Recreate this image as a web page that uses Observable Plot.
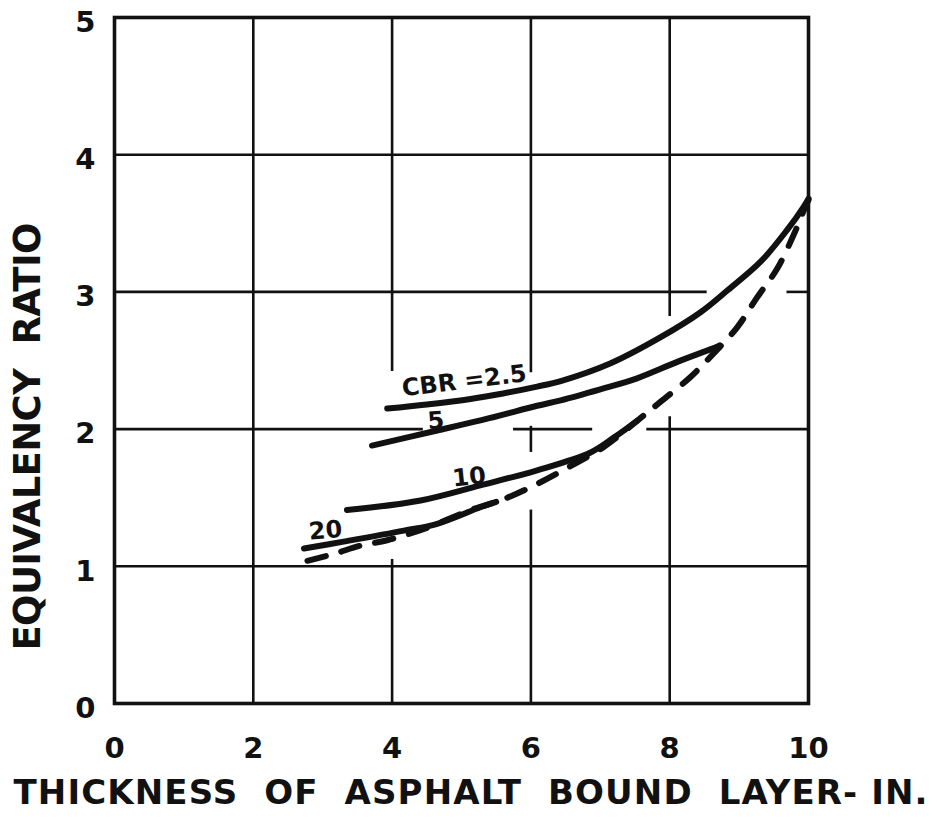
<!DOCTYPE html>
<html>
<head>
<meta charset="utf-8">
<script src="https://cdn.jsdelivr.net/npm/d3@7"></script>
<script src="https://cdn.jsdelivr.net/npm/@observablehq/plot@0.6"></script>
<style>
  html, body { margin: 0; padding: 0; background: #fff; }
  #chart svg { display: block; }
</style>
</head>
<body>
<div id="chart"></div>
<script>
// ---- data ----
const xTicks = [0, 2, 4, 6, 8, 10];
const yTicks = [0, 1, 2, 3, 4, 5];
const xTitle = "THICKNESS  OF  ASPHALT  BOUND  LAYER- IN.";
const yTitle = "EQUIVALENCY  RATIO";

// curve for CBR = 2.5 : [thickness, ratio]
const cbr25 = [[3.93,2.15],[4.5,2.18],[5.13,2.22],[5.6,2.26],[6.09,2.31],[6.43,2.35],[7.15,2.48],[7.87,2.67],[8.44,2.85],[8.83,3.01],[9.31,3.22],[9.69,3.45],[9.93,3.62],[10.0,3.68]];
const cbr5  = [[3.71,1.88],[4.65,1.99],[5.4,2.08],[6.09,2.17],[6.43,2.21],[7.0,2.29],[7.53,2.37],[8.11,2.49],[8.68,2.60],[8.72,2.61]];
const cbr10 = [[3.35,1.41],[4.41,1.48],[5.27,1.59],[6.09,1.70],[6.86,1.83],[7.2,1.94],[7.53,2.06]];
const cbr20 = [[2.73,1.13],[3.3,1.18],[4.17,1.26],[4.65,1.31],[5.27,1.43],[5.5,1.47]];
const envelope = [[2.78,1.04],[3.16,1.09],[3.54,1.15],[3.93,1.19],[4.5,1.28],[5.13,1.41],[5.61,1.49],[6.09,1.60],[6.57,1.73],[7.05,1.87],[7.53,2.06],[7.87,2.20],[8.30,2.38],[8.63,2.55],[8.97,2.74],[9.26,2.96],[9.55,3.17],[9.79,3.42],[9.93,3.59],[10.0,3.67]];

// curve labels: text and anchor [thickness, ratio]
const curveLabels = ["CBR =2.5", "5", "10", "20"];
const curveLabelAt = [[5.04,2.35],[4.63,2.06],[5.11,1.65],[3.04,1.26]];
const curveLabelAngle = [-7, -5, -6, -5];

// drafted grid pieces (gaps as in the original drawing)
const gridV = [[2,0,5],[4,0,1.05],[4,2.42,5],[6,0,1.41],[6,1.83,2.02],[6,2.41,5],[8,0,2.09],[8,2.82,5]];
const gridH = [[1,0,10],[2,0,4.45],[2,5.75,6.89],[2,7.67,10],[3,0,8.54],[3,9.69,10],[4,0,10]];

// ---- chart ----
const ink = "#111";
const font = "DejaVu Sans, sans-serif";
const solid = {x: d => d[0], y: d => d[1], stroke: ink, strokeWidth: 6, strokeLinecap: "round", curve: "catmull-rom"};

const chart = Plot.plot({
  width: 937,
  height: 818,
  marginTop: 17,
  marginLeft: 114,
  marginRight: 129,
  marginBottom: 115,
  x: {domain: [0, 10], axis: null},
  y: {domain: [0, 5], axis: null},
  style: {fontFamily: font, background: "#fff", color: ink},
  marks: [
    Plot.ruleX(gridV, {x: d => d[0], y1: d => d[1], y2: d => d[2], stroke: ink, strokeWidth: 2.6}),
    Plot.ruleY(gridH, {y: d => d[0], x1: d => d[1], x2: d => d[2], stroke: ink, strokeWidth: 2.6}),
    Plot.frame({stroke: ink, strokeWidth: 3.6}),
    Plot.line(cbr25, solid),
    Plot.line(cbr5, solid),
    Plot.line(cbr10, solid),
    Plot.line(cbr20, solid),
    Plot.line(envelope, {...solid, strokeDasharray: "19,16"}),
    ...curveLabels.map((t, i) => Plot.text([t], {
      x: curveLabelAt[i][0], y: curveLabelAt[i][1], text: d => d,
      rotate: curveLabelAngle[i], fontSize: 24, fontWeight: "bold", fill: ink
    })),
    Plot.text(xTicks, {x: d => d, text: d => String(d), frameAnchor: "bottom", lineAnchor: "middle", dy: 45, fontSize: 29, fontWeight: "bold", fill: ink}),
    Plot.text(yTicks, {y: d => d, text: d => String(d), frameAnchor: "left", lineAnchor: "middle", dx: -19, dy: 5, textAnchor: "end", fontSize: 29, fontWeight: "bold", fill: ink}),
    Plot.text([xTitle], {text: d => d, frameAnchor: "bottom", textAnchor: "middle", lineAnchor: "middle", dx: 9, dy: 90, fontSize: 34, fontWeight: "bold", fill: ink}),
    Plot.text([yTitle], {text: d => d, frameAnchor: "left", textAnchor: "middle", lineAnchor: "middle", rotate: -90, dx: -86, dy: 76, fontSize: 37, fontWeight: "bold", fill: ink})
  ]
});
// stretch the two titles to the span they take in the drawing
d3.select(chart).selectAll("text")
  .filter(function () { return this.textContent === xTitle; })
  .attr("textLength", 914).attr("lengthAdjust", "spacing");
d3.select(chart).selectAll("text")
  .filter(function () { return this.textContent === yTitle; })
  .attr("textLength", 428).attr("lengthAdjust", "spacing");
document.getElementById("chart").appendChild(chart);
</script>
</body>
</html>
